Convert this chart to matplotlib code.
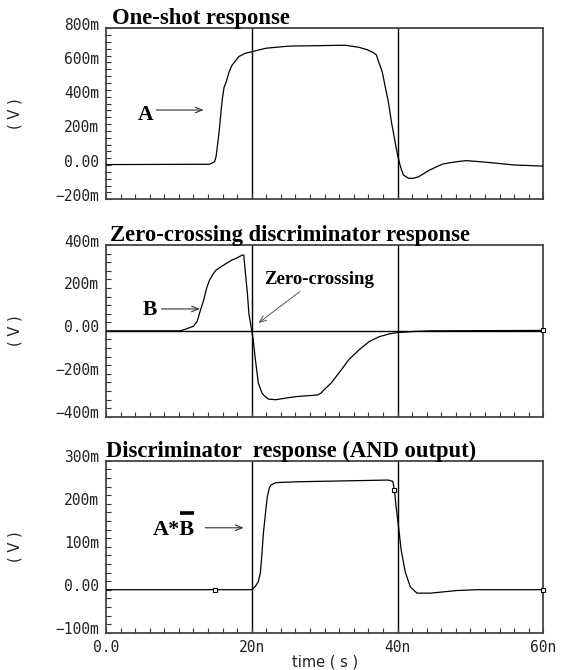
import matplotlib
matplotlib.use('Agg')
import matplotlib.pyplot as plt
from matplotlib.transforms import ScaledTranslation
from matplotlib.lines import Line2D
import numpy as np

plt.rcParams['font.family'] = ['DejaVu Sans Mono', 'DejaVu Sans']

# ---------------- data (time in ns, voltage in mV) ----------------
t_a = [0, 14.2, 14.9, 15.1, 15.5, 15.8, 16.0, 16.2, 16.5, 16.9, 17.3, 17.8, 18.2, 19.1,
       20.0, 21.9, 23.3, 25.2, 32.8, 34.7, 35.9, 36.7, 37.1, 37.4, 37.9, 38.4, 38.7,
       39.2, 39.7, 40.0, 40.4, 40.8, 41.5, 42.2, 42.9, 43.5, 44.4, 45.4, 46.2, 47.2,
       48.5, 49.5, 51.3, 53.6, 55.9, 60]
v_a = [3, 5, 20, 49, 186, 322, 400, 455, 488, 546, 585, 611, 634, 654,
       663, 683, 689, 696, 701, 689, 674, 657, 644, 605, 546, 439, 380,
       244, 127, 59, -9, -58, -77, -77, -68, -52, -29, -9, 6, 14,
       22, 26, 20, 11, 1, -6]

t_b = [0, 10.2, 11.1, 12.0, 12.5, 12.9, 13.4, 13.8, 14.2, 14.7, 15.1, 15.8, 16.5, 17.3,
       17.8, 18.7, 18.9, 19.1, 19.4, 19.6, 20.0, 20.2, 20.5, 20.9, 21.4, 21.7, 22.3,
       23.3, 24.7, 26.2, 29.0, 29.5, 29.9, 30.9, 32.1, 33.3, 34.7, 36.1, 37.5, 38.9,
       40.0, 42.2, 44.5, 60]
v_b = [0, 0, 10, 22, 43, 90, 143, 198, 236, 265, 283, 299, 314, 330,
       337, 353, 353, 279, 175, 82, 0, -42, -135, -243, -290, -302, -318,
       -321, -313, -306, -299, -290, -275, -243, -190, -135, -89, -50, -27, -14,
       -8, -3, 0, 2]

t_c = [0, 20.0, 20.47, 20.9, 21.18, 21.4, 21.6, 21.9, 22.13, 22.4, 22.6, 23.3, 26.2,
       38.72, 39.35, 39.57, 39.8, 40.14, 40.5, 41.05, 41.74, 42.66, 44.5, 48.1, 50.9, 60]
v_c = [0, 0, 7, 19, 39, 85, 132, 181, 216, 236, 243, 249, 251,
       255, 252, 232, 193, 146, 92, 42, 7, -8, -8, -2, 0, 0]

marker_t_b = [60]
marker_v_b = [2]
marker_t_c = [15, 39.57, 60]
marker_v_c = [0, 232, 0]

cursor_times = [20, 40]

x_ticks = [0, 20, 40, 60]
x_ticklabels = ['0.0', '20n', '40n', '60n']

y1_ticks = [-200, 0, 200, 400, 600, 800]
y1_labels = ['\u2212200m', '0.00', '200m', '400m', '600m', '800m']
y2_ticks = [-400, -200, 0, 200, 400]
y2_labels = ['\u2212400m', '\u2212200m', '0.00', '200m', '400m']
y3_ticks = [-100, 0, 100, 200, 300]
y3_labels = ['\u2212100m', '0.00', '100m', '200m', '300m']

titles = ['One-shot response', 'Zero-crossing discriminator response',
          'Discriminator  response (AND output)']

# ---------------- figure ----------------
W, H = 561, 670
fig = plt.figure(figsize=(W / 100, H / 100), dpi=100)


def rect(l, t, r, b):
    return [l / W, 1 - b / H, (r - l) / W, (b - t) / H]


ax1 = fig.add_axes(rect(106, 28.3, 543.3, 199.3))
ax2 = fig.add_axes(rect(106, 245, 543.3, 416.7))
ax3 = fig.add_axes(rect(106, 460.7, 543.3, 632.7))

serif = dict(family='Liberation Serif', weight='bold', color='black')
off = ScaledTranslation(0, 4.5 / 100, fig.dpi_scale_trans)


def style(ax, yticks, ylabels, yminor_step, show_x, title, tx):
    ax.set_xlim(0, 60)
    ax.set_ylim(yticks[0], yticks[-1])
    ax.set_xticks(x_ticks)
    ax.set_xticks(np.arange(0, 61, 2), minor=True)
    ax.set_yticks(yticks)
    ax.set_yticks(np.arange(yticks[0], yticks[-1] + 1, yminor_step), minor=True)
    ax.set_yticklabels(ylabels)
    if show_x:
        ax.set_xticklabels(x_ticklabels)
    ax.tick_params(which='both', direction='in', length=3.5, width=0.8,
                   color='#333', top=False, right=False)
    ax.tick_params(axis='y', labelsize=10.5, labelcolor='#222', pad=5)
    ax.tick_params(axis='x', labelsize=10.5, labelcolor='#222', pad=5,
                   labelbottom=show_x)
    for lab in ax.get_yticklabels():
        lab.set_transform(lab.get_transform() + off)
    for sp in ax.spines.values():
        sp.set_color('#444')
        sp.set_linewidth(1.3)
    for tc in cursor_times:
        ax.axvline(tc, color='black', lw=1.0, zorder=1)
    ax.set_ylabel('( V )', fontsize=10.5, color='#222', va='center', family='DejaVu Sans')
    ax.yaxis.set_label_coords(-0.208, 0.5)
    ax.annotate(title, xy=(tx, 1.0), xycoords='axes fraction', xytext=(0, 3),
                textcoords='offset points', ha='left', va='baseline',
                fontsize=16.3, **serif)


style(ax1, y1_ticks, y1_labels, 40, False, titles[0], 0.014)
style(ax2, y2_ticks, y2_labels, 40, False, titles[1], 0.009)
style(ax3, y3_ticks, y3_labels, 20, True, titles[2], 0.0)

ax2.axhline(0, color='black', lw=1.0, zorder=1)

ax1.plot(t_a, v_a, color='black', lw=0.9, zorder=3)
ax2.plot(t_b, v_b, color='black', lw=0.9, zorder=3)
ax3.plot(t_c, v_c, color='black', lw=0.9, zorder=3)
ax2.plot(marker_t_b, marker_v_b, ls='none', marker='s', ms=3, mfc='white',
         mec='black', mew=0.8, zorder=4, clip_on=False)
ax3.plot(marker_t_c, marker_v_c, ls='none', marker='s', ms=3, mfc='white',
         mec='black', mew=0.8, zorder=4, clip_on=False)

ax3.set_xlabel('time ( s )', fontsize=10.5, color='#222', va='center', family='DejaVu Sans')
ax3.xaxis.set_label_coords(0.5, -0.17)

arrow = dict(arrowstyle='->,head_length=0.5,head_width=0.2', color='#333', lw=0.8,
             shrinkA=0, shrinkB=0)

# annotations
ax1.text(5.4, 293, 'A', ha='center', va='center', fontsize=15.5, **serif)
ax1.annotate('', xy=(13.4, 322), xytext=(6.9, 322), arrowprops=arrow)

ax2.text(6.0, 98, 'B', ha='center', va='center', fontsize=15.5, **serif)
ax2.annotate('', xy=(12.9, 102), xytext=(7.6, 102), arrowprops=arrow)
ax2.text(21.75, 237, 'Zero-crossing', ha='left', va='center', fontsize=13.5, **serif)
ax2.annotate('', xy=(20.9, 36), xytext=(26.6, 183),
             arrowprops=dict(arrow, color='#555', lw=0.7))

t_ab = ax3.text(6.4, 139, 'A*B', ha='left', va='center', fontsize=16, **serif)
ax3.annotate('', xy=(18.9, 144), xytext=(13.6, 144), arrowprops=arrow)

# overline over B
fig.canvas.draw()
r = fig.canvas.get_renderer()
bb_full = t_ab.get_window_extent(r)
tmp = ax3.text(6.4, 139, 'A*', ha='left', va='center', fontsize=16, **serif)
bb_a = tmp.get_window_extent(r)
tmp.remove()
y_ol = bb_full.y1 + 7
p0 = fig.transFigure.inverted().transform((bb_a.x1 + 0.5, y_ol))
p1 = fig.transFigure.inverted().transform((bb_full.x1 - 0.5, y_ol))
fig.add_artist(Line2D([p0[0], p1[0]], [p0[1], p1[1]], transform=fig.transFigure,
                      color='black', lw=2.6, solid_capstyle='butt'))

fig.savefig('out.png', dpi=100)
